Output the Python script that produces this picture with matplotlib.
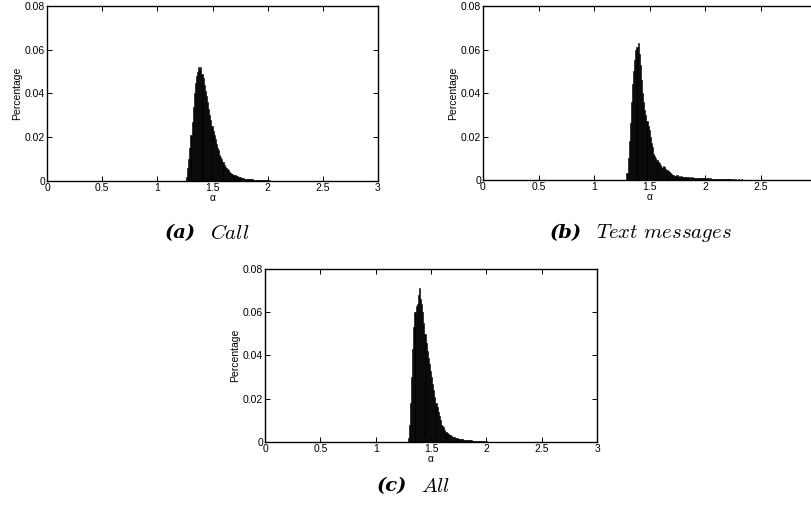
import numpy as np
import matplotlib as mpl
mpl.use('Agg')
import matplotlib.pyplot as plt

# histogram bins: width 0.01, first bin edge given per panel
bin_w = 0.01

call_start = 1.25
call_vals = [
    0.0, 0.002, 0.006, 0.010, 0.015, 0.021, 0.027, 0.034, 0.040, 0.045,
    0.048, 0.050, 0.052, 0.051, 0.052, 0.049, 0.047, 0.044, 0.041, 0.039,
    0.036, 0.033, 0.030, 0.028, 0.025, 0.023, 0.021, 0.019, 0.017, 0.015,
    0.014, 0.012, 0.011, 0.010, 0.0085, 0.0075, 0.0065, 0.0060, 0.0055, 0.0048,
    0.0042, 0.0038, 0.0034, 0.0031, 0.0028, 0.0025, 0.0023, 0.0021, 0.0019, 0.0017,
    0.0016, 0.0014, 0.0013, 0.0012, 0.0011, 0.0010, 0.0009, 0.0009, 0.0008, 0.0008,
    0.0007, 0.0007, 0.0006, 0.0006, 0.0005, 0.0005, 0.0005, 0.0004, 0.0004, 0.0004,
    0.0003, 0.0004, 0.0003, 0.0003, 0.0003, 0.0002, 0.0003, 0.0002, 0.0002, 0.0002,
    0.0002, 0.0001, 0.0002, 0.0001, 0.0001, 0.0002, 0.0001, 0.0001, 0.0001, 0.0001,
    0.0001, 0.0, 0.0001, 0.0001, 0.0, 0.0001, 0.0, 0.0001, 0.0, 0.0001,
    0.0, 0.0, 0.0001, 0.0, 0.0, 0.0001, 0.0, 0.0, 0.0, 0.0001,
]

text_start = 1.28
text_vals = [
    0.0, 0.003, 0.010, 0.018, 0.026, 0.036, 0.044, 0.050, 0.055, 0.060,
    0.061, 0.063, 0.058, 0.053, 0.046, 0.040, 0.036, 0.032, 0.030, 0.027,
    0.025, 0.023, 0.020, 0.017, 0.015, 0.012, 0.011, 0.010, 0.009, 0.0085,
    0.008, 0.007, 0.006, 0.0055, 0.0065, 0.006, 0.005, 0.0045, 0.004, 0.0035,
    0.003, 0.0028, 0.0025, 0.0022, 0.0020, 0.0018, 0.0021, 0.0016, 0.0019, 0.0015,
    0.0017, 0.0014, 0.0016, 0.0013, 0.0015, 0.0012, 0.0014, 0.0011, 0.0013, 0.0010,
    0.0012, 0.0009, 0.0011, 0.0010, 0.0008, 0.0010, 0.0009, 0.0007, 0.0009, 0.0008,
    0.0007, 0.0008, 0.0006, 0.0007, 0.0008, 0.0005, 0.0007, 0.0006, 0.0005, 0.0006,
    0.0005, 0.0006, 0.0004, 0.0005, 0.0006, 0.0004, 0.0005, 0.0004, 0.0003, 0.0005,
    0.0004, 0.0003, 0.0004, 0.0003, 0.0004, 0.0002, 0.0003, 0.0004, 0.0002, 0.0003,
    0.0002, 0.0003, 0.0002, 0.0002, 0.0003, 0.0001, 0.0002, 0.0002, 0.0001, 0.0002,
    0.0001, 0.0002, 0.0001, 0.0001, 0.0002, 0.0001, 0.0001, 0.0001, 0.0002, 0.0001,
    0.0001, 0.0, 0.0001, 0.0001, 0.0, 0.0001, 0.0, 0.0001, 0.0, 0.0001,
    0.0, 0.0001, 0.0, 0.0, 0.0001, 0.0, 0.0, 0.0001, 0.0, 0.0,
    0.0001, 0.0, 0.0, 0.0, 0.0001, 0.0, 0.0, 0.0, 0.0, 0.0001,
]

all_start = 1.28
all_vals = [
    0.0, 0.002, 0.008, 0.018, 0.030, 0.043, 0.053, 0.060, 0.063, 0.064,
    0.068, 0.071, 0.066, 0.064, 0.060, 0.055, 0.050, 0.046, 0.042, 0.039,
    0.036, 0.033, 0.030, 0.027, 0.024, 0.021, 0.018, 0.016, 0.014, 0.012,
    0.010, 0.008, 0.0072, 0.0068, 0.0055, 0.0048, 0.0042, 0.0037, 0.0033, 0.0030,
    0.0027, 0.0025, 0.0023, 0.0021, 0.0019, 0.0018, 0.0016, 0.0015, 0.0014, 0.0013,
    0.0012, 0.0011, 0.0010, 0.0010, 0.0009, 0.0008, 0.0008, 0.0007, 0.0007, 0.0006,
    0.0006, 0.0005, 0.0005, 0.0005, 0.0004, 0.0004, 0.0004, 0.0003, 0.0003, 0.0003,
    0.0003, 0.0002, 0.0003, 0.0002, 0.0002, 0.0002, 0.0001, 0.0002, 0.0001, 0.0002,
    0.0001, 0.0001, 0.0001, 0.0001, 0.0, 0.0001, 0.0001, 0.0, 0.0001, 0.0,
    0.0001, 0.0, 0.0, 0.0001, 0.0, 0.0, 0.0001, 0.0, 0.0, 0.0,
]

x_ticks = [0, 0.5, 1, 1.5, 2, 2.5, 3]
x_ticklabels = ['0', '0.5', '1', '1.5', '2', '2.5', '3']
y_ticks = [0, 0.02, 0.04, 0.06, 0.08]
y_ticklabels = ['0', '0.02', '0.04', '0.06', '0.08']

panels = [
    # (start, values, axes rect, caption label, caption text, caption left/centre-y)
    (call_start, call_vals, [0.0579, 0.650, 0.4076, 0.3385], '(a)', 'Call', (0.2032, 0.549)),
    (text_start, text_vals, [0.5948, 0.6518, 0.4108, 0.3366], '(b)', r'Text\ messages', (0.6773, 0.549)),
    (all_start, all_vals, [0.3264, 0.1451, 0.4089, 0.3346], '(c)', 'All', (0.4643, 0.060)),
]

plt.rcParams['mathtext.fontset'] = 'cm'
fig = plt.figure(figsize=(8.12, 5.17), dpi=100)
tick_font = 'Liberation Sans'
renderer = fig.canvas.get_renderer()

for k, (start, vals, rect, lab, txt, (cx, cy)) in enumerate(panels):
    ax = fig.add_axes(rect)
    lefts = start + bin_w * np.arange(len(vals))
    ax.bar(lefts, vals, width=bin_w, align='edge', color='black',
           edgecolor='black', linewidth=0.4)
    ax.set_xlim(0, 3)
    ax.set_ylim(0, 0.08)
    ax.set_xticks(x_ticks)
    labels = list(x_ticklabels)
    if k == 1:
        # the right end of this panel runs past the page edge
        labels[-1] = ''
    ax.set_xticklabels(labels, family=tick_font, fontsize=7.5)
    ax.set_yticks(y_ticks)
    ax.set_yticklabels(y_ticklabels, family=tick_font, fontsize=7.5)
    ax.tick_params(direction='in', length=3.5, width=0.7, top=True, right=True, pad=1.5)
    for sp in ax.spines.values():
        sp.set_linewidth(1.0)
    ax.set_ylabel('Percentage', family=tick_font, fontsize=7.5, labelpad=2)
    ax.set_xlabel('α', family=tick_font, fontsize=7.5, labelpad=0)

    t = fig.text(cx, cy, lab, family='DejaVu Serif', fontsize=14, fontweight='bold',
                 style='italic', ha='left', va='center')
    bb = t.get_window_extent(renderer).transformed(fig.transFigure.inverted())
    fig.text(bb.x1 + 14 / 812, cy, '$\\mathit{' + txt + '}$', fontsize=15,
             ha='left', va='center')

fig.savefig('out.png', dpi=100)
